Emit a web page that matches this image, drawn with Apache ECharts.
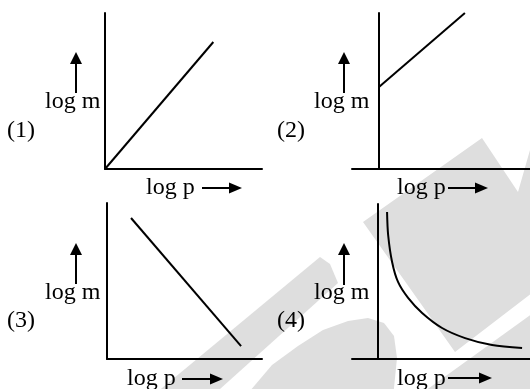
<!DOCTYPE html>
<html>
<head>
<meta charset="utf-8">
<script src="https://cdn.jsdelivr.net/npm/echarts@6/dist/echarts.min.js"></script>
<style>
html, body { margin: 0; padding: 0; background: #fff; }
#main { width: 530px; height: 389px; }
</style>
</head>
<body>
<div id="main"></div>
<script>
// panel labels
var panelNames = ['(1)', '(2)', '(3)', '(4)'];
var yName = 'log m';
var xName = 'log p';

// graph 1: straight line through origin
var g1X = [0, 6.9];
var g1Y = [0, 8.14];
// graph 2: straight line with intercept
var g2X = [0, 4.78];
var g2Y = [5.26, 10];
// graph 3: falling straight line
var g3X = [1.55, 8.65];
var g3Y = [9.04, 0.83];
// graph 4: hyperbola-like curve
var g4X = [0.5, 0.56, 0.78, 1.11, 1.67, 2.45, 3.56, 4.84, 6.34, 8.01];
var g4Y = [9.48, 8.0, 6.26, 4.97, 3.94, 2.97, 2.0, 1.35, 0.9, 0.71];

function pairs(xs, ys) {
    var out = [];
    for (var i = 0; i < xs.length; i++) {
        out.push([xs[i], ys[i]]);
    }
    return out;
}

var font = '24px "Liberation Serif", "Times New Roman", serif';
var axisStyle = { show: true, onZero: true, lineStyle: { color: '#000', width: 2 } };

function makeX(idx, min, max) {
    return {
        gridIndex: idx, type: 'value', min: min, max: max,
        axisLine: axisStyle, axisTick: { show: false },
        axisLabel: { show: false }, splitLine: { show: false }
    };
}
function makeY(idx) {
    return {
        gridIndex: idx, type: 'value', min: 0, max: 10,
        axisLine: axisStyle, axisTick: { show: false },
        axisLabel: { show: false }, splitLine: { show: false }
    };
}
function makeSeries(idx, data, smooth) {
    return {
        type: 'line', xAxisIndex: idx, yAxisIndex: idx,
        data: data, smooth: smooth, symbol: 'none', silent: true,
        lineStyle: { color: '#000', width: 2 }, z: 5
    };
}

// decoration: faint watermark, labels and arrows
var graphics = [];
var wm = '#dedede';
graphics.push({ type: 'polygon', z: -10, shape: { points: [[150, 398], [320, 257], [330, 264], [338, 283], [210, 398]] }, style: { fill: wm } });
graphics.push({ type: 'polygon', z: -10, shape: { points: [[244, 398], [272, 365], [298, 346], [323, 330], [348, 321], [368, 318], [384, 323], [394, 336], [397, 358], [393, 398]] }, style: { fill: wm } });
graphics.push({ type: 'polygon', z: -10, shape: { points: [[363, 222], [482, 138], [518, 192], [536, 129], [536, 290], [455, 352]] }, style: { fill: wm } });
graphics.push({ type: 'polygon', z: -10, shape: { points: [[418, 396], [536, 311], [536, 396]] }, style: { fill: wm } });

var labelPos = [
    { num: [7, 131], ym: [45, 102], up: [76, 52, 93], xp: [146, 188], right: [202, 242, 188] },
    { num: [277, 131], ym: [314, 102], up: [344, 52, 93], xp: [397, 188], right: [448, 488, 188] },
    { num: [7, 321], ym: [45, 293], up: [76, 243, 284], xp: [127, 379], right: [182, 223, 379] },
    { num: [277, 321], ym: [314, 293], up: [344, 243, 285], xp: [397, 379], right: [448, 492, 378] }
];
for (var i = 0; i < labelPos.length; i++) {
    var p = labelPos[i];
    graphics.push({ type: 'text', z: 10, x: p.num[0], y: p.num[1], style: { text: panelNames[i], font: font, fill: '#000', verticalAlign: 'middle' } });
    graphics.push({ type: 'text', z: 10, x: p.ym[0], y: p.ym[1], style: { text: yName, font: font, fill: '#000', verticalAlign: 'middle' } });
    graphics.push({ type: 'text', z: 10, x: p.xp[0], y: p.xp[1], style: { text: xName, font: font, fill: '#000', verticalAlign: 'middle' } });
    // up arrow
    graphics.push({ type: 'line', z: 10, shape: { x1: p.up[0], y1: p.up[2], x2: p.up[0], y2: p.up[1] + 10 }, style: { stroke: '#000', lineWidth: 2 } });
    graphics.push({ type: 'polygon', z: 10, shape: { points: [[p.up[0], p.up[1]], [p.up[0] - 6, p.up[1] + 12], [p.up[0] + 6, p.up[1] + 12]] }, style: { fill: '#000' } });
    // right arrow
    graphics.push({ type: 'line', z: 10, shape: { x1: p.right[0], y1: p.right[2], x2: p.right[1] - 10, y2: p.right[2] }, style: { stroke: '#000', lineWidth: 2 } });
    graphics.push({ type: 'polygon', z: 10, shape: { points: [[p.right[1], p.right[2]], [p.right[1] - 13, p.right[2] - 5.5], [p.right[1] - 13, p.right[2] + 5.5]] }, style: { fill: '#000' } });
}

var myChart = echarts.init(document.getElementById('main'), null, { renderer: 'canvas' });
var option = {
    animation: false,
    backgroundColor: '#fff',
    grid: [
        { left: 105, top: 13, width: 157, height: 156 },
        { left: 352, top: 13, width: 178, height: 156 },
        { left: 107, top: 203, width: 155, height: 156 },
        { left: 352, top: 204, width: 178, height: 155 }
    ],
    xAxis: [makeX(0, 0, 10), makeX(1, -1.5, 8.4), makeX(2, 0, 10), makeX(3, -1.45, 8.45)],
    yAxis: [makeY(0), makeY(1), makeY(2), makeY(3)],
    series: [
        makeSeries(0, pairs(g1X, g1Y), false),
        makeSeries(1, pairs(g2X, g2Y), false),
        makeSeries(2, pairs(g3X, g3Y), false),
        makeSeries(3, pairs(g4X, g4Y), 0.3)
    ],
    graphic: { elements: graphics }
};
myChart.setOption(option);
</script>
</body>
</html>
